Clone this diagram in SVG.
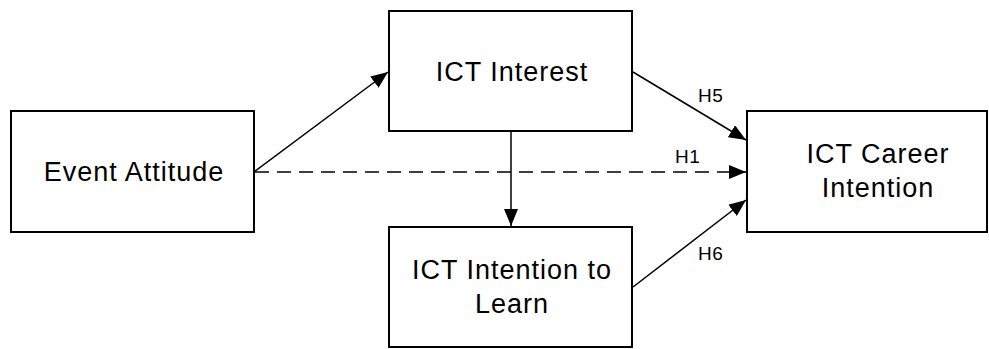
<svg xmlns="http://www.w3.org/2000/svg" width="989" height="349" viewBox="0 0 989 349">
<style>
.box{fill:#fff;stroke:#000;stroke-width:2}
.t{font-family:"Liberation Sans",Arial,sans-serif;font-size:27px;letter-spacing:1px;fill:#000;text-anchor:middle}
.h{font-family:"Liberation Sans",Arial,sans-serif;font-size:19px;letter-spacing:0.5px;fill:#000}
.c{stroke:#000;stroke-width:1.5;fill:none;marker-end:url(#ah)}
.d{stroke-dasharray:14 8}
</style>
<defs>
<marker id="ah" markerUnits="userSpaceOnUse" markerWidth="18" markerHeight="14" refX="17" refY="7" orient="auto">
<path d="M0,0 L17,7 L0,14 Z" fill="#000"/>
</marker>
</defs>
<rect width="989" height="349" fill="#fff"/>
<g id="connectors">
<line class="c" x1="254" y1="172" x2="388" y2="72"/>
<line class="c" x1="633" y1="72" x2="746" y2="140"/>
<line class="c d" x1="255" y1="172" x2="746" y2="172"/>
<line class="c" x1="511" y1="131" x2="511" y2="226"/>
<line class="c" x1="633" y1="287" x2="746" y2="200"/>
<text class="h" x="698" y="102">H5</text>
<text class="h" x="675" y="163">H1</text>
<text class="h" x="698" y="260">H6</text>
</g>
<g id="event-attitude">
<rect class="box" x="11" y="111" width="243" height="121"/>
<text class="t" x="134" y="181">Event Attitude</text>
</g>
<g id="ict-interest">
<rect class="box" x="389" y="11" width="243" height="120"/>
<text class="t" x="512" y="81">ICT Interest</text>
</g>
<g id="ict-intention-learn">
<rect class="box" x="389" y="227" width="243" height="120"/>
<text class="t" x="512" y="279">ICT Intention to</text>
<text class="t" x="512" y="313">Learn</text>
</g>
<g id="ict-career-intention">
<rect class="box" x="747" y="111" width="240" height="121"/>
<text class="t" x="878" y="163">ICT Career</text>
<text class="t" x="878" y="197">Intention</text>
</g>
</svg>
